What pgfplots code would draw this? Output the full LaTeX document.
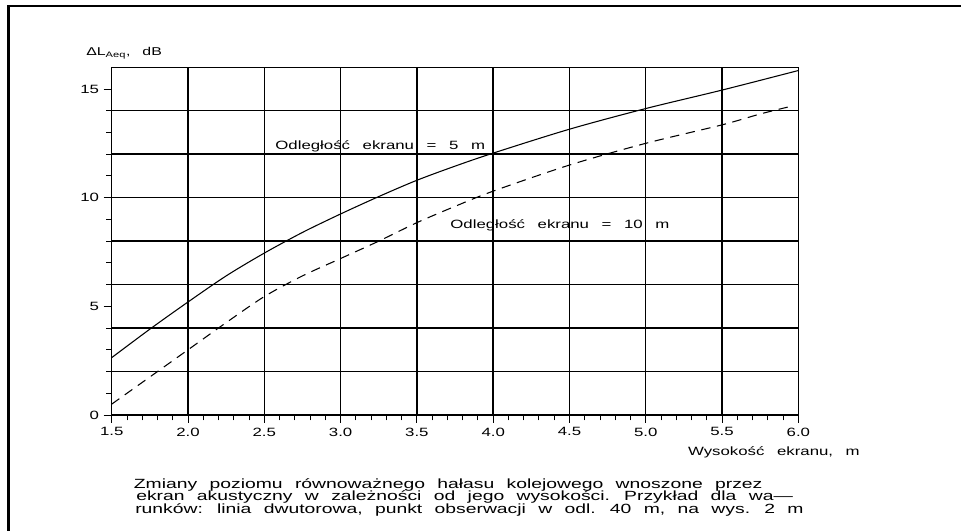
\documentclass[border=0pt]{standalone}
\usepackage{fontspec}
\setmainfont{Liberation Sans}[FakeStretch=1.4]
\newfontfamily\capfont{Liberation Sans}[FakeStretch=1.45,WordSpace=2.3]
\newfontfamily\lblfont{Liberation Sans}[FakeStretch=1.4,WordSpace=2.7]
\usepackage{pgfplots}
\pgfplotsset{compat=1.18}
\pgfplotstableread{
x y
1.5 2.64
1.75 3.95
2.0 5.2
2.25 6.4
2.5 7.45
2.75 8.4
3.0 9.25
3.25 10.05
3.5 10.8
3.75 11.45
4.0 12.05
4.5 13.15
5.0 14.1
5.5 14.95
6.0 15.85
}\fivem
\pgfplotstableread{
x y
1.5 0.5
1.75 1.75
2.0 3.0
2.25 4.25
2.5 5.45
2.75 6.4
3.0 7.2
3.25 8.0
3.5 8.85
3.75 9.6
4.0 10.3
4.5 11.5
5.0 12.5
5.5 13.35
5.75 13.85
5.95 14.2
}\tenm
\begin{document}
\begin{tikzpicture}
\path[use as bounding box] (0,0) rectangle (720.75pt,398.25pt);
\draw[line width=1.9pt] (6.5pt,0) -- (6.5pt,393.9pt) -- (720.75pt,393.9pt);
\begin{axis}[
  at={(83.8pt,87pt)}, anchor=south west,
  scale only axis, width=514.95pt, height=260.8pt,
  xmin=1.5, xmax=6, ymin=0, ymax=16,
  xtick={1.5,2,...,6}, ytick={0,5,10,15},
  minor x tick num=4, minor y tick num=4,
  tick align=outside, tick pos=left,
  xmajorgrids,
  extra y ticks={2,4,6,8,10,12,14},
  extra y tick labels={},
  extra y tick style={grid=major, tick style={draw=none}},
  grid style={black, line width=1.1pt},
  axis line style={black, line width=1.1pt},
  major tick length=6pt, minor tick length=4pt,
  every tick/.style={black, line width=0.7pt},
  xticklabel style={/pgf/number format/fixed, /pgf/number format/fixed zerofill, /pgf/number format/precision=1},
  tick label style={font=\fontsize{9}{11}\selectfont},
  /pgf/number format/assume math mode=true,
  clip=false,
]
\addplot[black, line width=0.8pt, smooth] table[x=x,y=y] {\fivem};
\addplot[black, line width=0.8pt, smooth, dash pattern=on 7pt off 5pt] table[x=x,y=y] {\tenm};
\node[anchor=west, inner sep=0pt, font=\lblfont\fontsize{9}{11}\selectfont] at (axis cs:2.571,12.37) {Odległość ekranu = 5 m};
\node[anchor=west, inner sep=0pt, font=\lblfont\fontsize{9}{11}\selectfont] at (axis cs:3.718,8.71) {Odległość ekranu = 10 m};
\end{axis}
\node[anchor=west, font=\lblfont\fontsize{8.5}{10}\selectfont, inner sep=0pt] at (64.5pt,358.5pt) {ΔL\textsubscript{Aeq}, dB};
\node[anchor=east, font=\lblfont\fontsize{9}{11}\selectfont, inner sep=0pt] at (645pt,59.25pt) {Wysokość ekranu, m};
\node[anchor=west, font=\capfont\fontsize{10}{12}\selectfont, inner sep=0pt] at (100.2pt,34.5pt) {Zmiany poziomu równoważnego hałasu kolejowego wnoszone przez};
\node[anchor=west, font=\capfont\fontsize{10}{12}\selectfont, inner sep=0pt] at (102pt,25.5pt) {ekran akustyczny w zależności od jego wysokości. Przykład dla wa—};
\node[anchor=west, font=\capfont\fontsize{10}{12}\selectfont, inner sep=0pt] at (101.25pt,16.1pt) {runków: linia dwutorowa, punkt obserwacji w odl. 40 m, na wys. 2 m};
\end{tikzpicture}
\end{document}
